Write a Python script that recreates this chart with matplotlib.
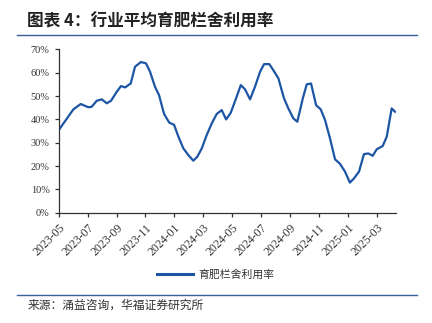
import matplotlib
matplotlib.use('Agg')
import matplotlib.pyplot as plt
from matplotlib.lines import Line2D
from matplotlib.ticker import FuncFormatter

plt.rcParams['font.family'] = ['Noto Sans CJK SC', 'DejaVu Sans']

# months since 2023-05 and utilisation in %
months = [0.0, 1.01, 1.52, 2.05, 2.28, 2.63, 2.98, 3.32, 3.62, 4.01, 4.31, 4.59, 4.98,
          5.28, 5.69, 6.04, 6.32, 6.66, 6.94, 7.29, 7.65, 7.98, 8.28, 8.62, 8.97, 9.31,
          9.59, 9.90, 10.24, 10.59, 10.93, 11.28, 11.58, 11.90, 12.27, 12.60, 12.89,
          13.24, 13.58, 13.93, 14.21, 14.57, 14.85, 15.20, 15.59, 15.89, 16.24, 16.51,
          16.89, 17.16, 17.46, 17.81, 18.13, 18.43, 18.77, 19.12, 19.47, 19.81, 20.15,
          20.43, 20.78, 21.12, 21.42, 21.73, 22.01, 22.42, 22.70, 23.04, 23.27]
usage = [35.4, 44.3, 46.6, 45.2, 45.4, 48.0, 48.6, 46.9, 48.0, 51.8, 54.3, 53.7, 55.4,
         62.6, 64.6, 64.0, 60.4, 54.0, 50.4, 42.3, 38.6, 37.7, 32.6, 27.6, 24.7, 22.3,
         24.0, 27.6, 33.3, 38.3, 42.3, 44.0, 40.0, 42.8, 49.0, 54.7, 52.9, 48.6, 54.0,
         60.4, 63.7, 63.7, 61.1, 57.6, 49.0, 44.7, 40.4, 39.0, 49.0, 55.0, 55.4, 46.1,
         44.3, 39.7, 31.9, 22.9, 20.9, 17.6, 12.9, 14.7, 17.6, 25.1, 25.4, 24.4, 27.2,
         28.6, 32.6, 44.7, 43.3]

tick_pos = [0, 2, 4, 6, 8, 10, 12, 14, 16, 18, 20, 22]
tick_labels = ['2023-05', '2023-07', '2023-09', '2023-11', '2024-01', '2024-03',
               '2024-05', '2024-07', '2024-09', '2024-11', '2025-01', '2025-03']

line_color = '#1d55a5'
rule_color = '#3a5f9c'

fig = plt.figure(figsize=(4.32, 3.23), dpi=100)
ax = fig.add_axes([0.136, 0.3415, 0.78, 0.5055])

ax.plot(months, usage, color=line_color, lw=1.6, solid_joinstyle='round')

ax.set_xlim(0, 23.32)
ax.set_ylim(0, 70)
ax.set_yticks(range(0, 71, 10))
ax.yaxis.set_major_formatter(FuncFormatter(lambda v, p: f'{int(v)}%'))
ax.set_xticks(tick_pos)
ax.set_xticklabels(tick_labels, rotation=45, ha='right', va='top', rotation_mode='anchor')

for s in ['top', 'right']:
    ax.spines[s].set_visible(False)
for s in ['left', 'bottom']:
    ax.spines[s].set_color('#333333')
    ax.spines[s].set_linewidth(0.9)
ax.tick_params(axis='both', direction='out', length=3, width=0.9, color='#333333')
for lab in ax.get_yticklabels():
    lab.set_fontfamily('Liberation Serif')
    lab.set_fontsize(7.5)
    lab.set_color('#333333')
for lab in ax.get_xticklabels():
    lab.set_fontfamily('Liberation Serif')
    lab.set_fontsize(8.5)
    lab.set_color('#333333')

# legend under the plot
handle = Line2D([], [], color=line_color, lw=2.2)
fig.legend([handle], ['育肥栏舍利用率'], loc='center', bbox_to_anchor=(0.5, 0.149),
           frameon=False, fontsize=7.8, handlelength=3.3, handletextpad=0.5,
           labelcolor='#333333')

# title, rules and source
fig.text(0.063, 0.932, '图表 4：行业平均育肥栏舍利用率', fontsize=12, fontweight='bold',
         color='#222222', va='center', ha='left')
fig.add_artist(Line2D([0.04, 0.965], [0.892, 0.892], color=rule_color, lw=1.0))
fig.add_artist(Line2D([0.04, 0.965], [0.087, 0.087], color=rule_color, lw=1.0))
fig.text(0.063, 0.055, '来源：涌益咨询，华福证券研究所', fontsize=8.5, color='#333333',
         va='center', ha='left')

fig.savefig('out.png', dpi=100)
